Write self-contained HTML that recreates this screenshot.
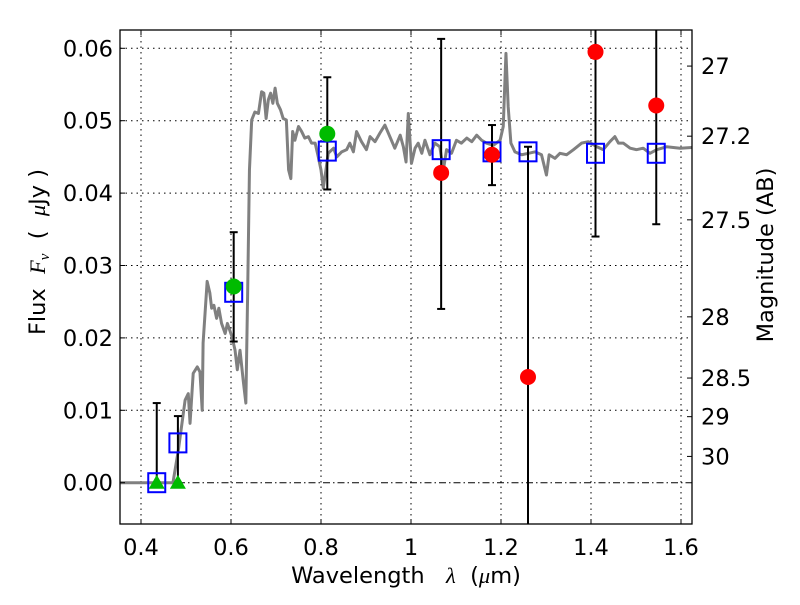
<!DOCTYPE html>
<html><head><meta charset="utf-8"><style>
html,body{margin:0;padding:0;background:#fff;}
svg text{font-family:"DejaVu Sans","Liberation Sans",sans-serif;white-space:pre;}
</style></head><body>
<svg id="chart" width="800" height="600" viewBox="0 0 800 600" xmlns="http://www.w3.org/2000/svg"></svg>
<script>
const xTicks=[0.4,0.6,0.8,1.0,1.2,1.4,1.6];
const xTickLabels=["0.4","0.6","0.8","1","1.2","1.4","1.6"];
const yTicks=[0,0.01,0.02,0.03,0.04,0.05,0.06];
const yTickLabels=["0.00","0.01","0.02","0.03","0.04","0.05","0.06"];
const magTicks=[27,27.2,27.5,28,28.5,29,30];
const magTickLabels=["27","27.2","27.5","28","28.5","29","30"];
const specLam=[0.353,0.471,0.483,0.498,0.505,0.509,0.516,0.525,0.531,0.536,0.538,0.547,0.553,0.557,0.562,0.568,0.573,0.579,0.587,0.592,0.602,0.609,0.614,0.620,0.627,0.633,0.637,0.641,0.646,0.653,0.661,0.668,0.673,0.678,0.683,0.688,0.693,0.698,0.703,0.710,0.716,0.723,0.728,0.733,0.737,0.742,0.750,0.757,0.764,0.772,0.779,0.787,0.794,0.800,0.805,0.811,0.816,0.828,0.835,0.846,0.857,0.864,0.872,0.879,0.890,0.901,0.909,0.920,0.931,0.942,0.953,0.964,0.976,0.983,0.989,0.994,1.001,1.009,1.016,1.024,1.031,1.042,1.053,1.064,1.072,1.079,1.090,1.101,1.112,1.124,1.135,1.146,1.157,1.168,1.183,1.198,1.205,1.211,1.216,1.222,1.231,1.246,1.261,1.276,1.290,1.301,1.307,1.320,1.331,1.346,1.361,1.379,1.394,1.413,1.427,1.442,1.453,1.461,1.472,1.487,1.501,1.516,1.531,1.546,1.568,1.598,1.624];
const specFlux=[0,0,0.0045,0.0114,0.0123,0.0082,0.0151,0.016,0.0153,0.01,0.0193,0.0278,0.0262,0.0241,0.0245,0.0227,0.0241,0.022,0.0206,0.022,0.0202,0.0183,0.0156,0.0183,0.0142,0.011,0.0262,0.0432,0.0501,0.0512,0.051,0.054,0.0538,0.0503,0.0529,0.0538,0.0524,0.0545,0.0524,0.0515,0.0503,0.0501,0.0432,0.042,0.0485,0.0473,0.0492,0.0485,0.0476,0.0478,0.0469,0.0469,0.045,0.0432,0.0407,0.0432,0.0455,0.0462,0.045,0.0457,0.046,0.0469,0.0457,0.0485,0.0471,0.046,0.0478,0.0471,0.0483,0.0494,0.0478,0.0462,0.048,0.0464,0.0443,0.051,0.0441,0.0462,0.0469,0.0455,0.0473,0.0453,0.0469,0.0464,0.0432,0.046,0.0455,0.0473,0.0469,0.0476,0.0471,0.048,0.0473,0.0469,0.0466,0.0473,0.0492,0.0593,0.0519,0.0469,0.0457,0.0453,0.0455,0.0457,0.0453,0.0425,0.0453,0.0448,0.0455,0.0453,0.046,0.0469,0.0471,0.0464,0.046,0.0471,0.0478,0.0469,0.0469,0.0462,0.046,0.0462,0.0455,0.046,0.0464,0.0462,0.0463];
const modelLam=[0.435,0.482,0.606,0.814,1.067,1.18,1.26,1.41,1.545];
const modelFlux=[0.0,0.0055,0.0263,0.0458,0.046,0.0457,0.0457,0.0455,0.0455];
const errLam=[0.435,0.482,0.606,0.814,1.067,1.18,1.26,1.41,1.545];
const errLo=[0.0,0.0,0.0195,0.0405,0.024,0.0411,-0.02,0.034,0.0357];
const errHi=[0.011,0.0092,0.0346,0.056,0.0613,0.0494,0.0464,0.09,0.09];
const greenLam=[0.606,0.814];
const greenFlux=[0.0271,0.0482];
const limLam=[0.435,0.482];
const limFlux=[0,0];
const redLam=[1.067,1.18,1.26,1.41,1.545];
const redFlux=[0.0428,0.0453,0.0146,0.0595,0.0521];

const L=120,R=692,T=30,B=524;
const X=v=>141+(v-0.4)*450;
const Y=v=>482.7-v*7240;
const svg=document.getElementById('chart');
const NS='http://www.w3.org/2000/svg';
function mk(tag,attrs,parent){const e=document.createElementNS(NS,tag);for(const k in attrs)e.setAttribute(k,attrs[k]);(parent||svg).appendChild(e);return e;}
const defs=mk('defs',{});const cp=mk('clipPath',{id:'cp'},defs);mk('rect',{x:L,y:T,width:R-L,height:B-T},cp);

const grid=mk('g',{});


xTicks.forEach(v=>{mk('line',{x1:X(v),x2:X(v),y1:T,y2:B,stroke:'#000','stroke-width':1,'stroke-dasharray':'1.5,4'},grid);});
yTicks.forEach(v=>{if(v===0)return;mk('line',{x1:L,x2:R,y1:Y(v),y2:Y(v),stroke:'#000','stroke-width':1,'stroke-dasharray':'1.5,4'},grid);});
const zl=mk('line',{x1:L,x2:R,y1:Y(0),y2:Y(0),stroke:'#000','stroke-width':1,'stroke-dasharray':'7,3,1.5,3'});



const plot=mk('g',{'clip-path':'url(#cp)'});
const sp=mk('polyline',{points:specLam.map((l,i)=>X(l)+','+Y(specFlux[i])).join(' '),fill:'none',stroke:'#808080','stroke-width':3,'stroke-linejoin':'round'},plot);



errLam.forEach((l,i)=>{
  const g=mk('g',{},plot);
  
  
  const x=X(l);
  mk('line',{x1:x,x2:x,y1:Y(errLo[i]),y2:Y(errHi[i]),stroke:'#000','stroke-width':2},g);
  mk('line',{x1:x-4,x2:x+4,y1:Y(errLo[i]),y2:Y(errLo[i]),stroke:'#000','stroke-width':2},g);
  mk('line',{x1:x-4,x2:x+4,y1:Y(errHi[i]),y2:Y(errHi[i]),stroke:'#000','stroke-width':2},g);
});
modelLam.forEach((l,i)=>{
  const r=mk('rect',{x:X(l)-8.5,y:Y(modelFlux[i])-9.5,width:17,height:19,fill:'none',stroke:'#0000ff','stroke-width':2},plot);
  
  
});
limLam.forEach((l,i)=>{
  const x=X(l),y=Y(limFlux[i]);
  const p=mk('polygon',{points:`${x},${y-8} ${x-8},${y+6} ${x+8},${y+6}`,fill:'#00bb00'},plot);
  
  
});
greenLam.forEach((l,i)=>{
  const c=mk('circle',{cx:X(l),cy:Y(greenFlux[i]),r:8,fill:'#00bb00'},plot);
  
  
});
redLam.forEach((l,i)=>{
  const c=mk('circle',{cx:X(l),cy:Y(redFlux[i]),r:8,fill:'#ff0000'},plot);
  
  
});

const frame=mk('rect',{x:L,y:T,width:R-L,height:B-T,fill:'none',stroke:'#000','stroke-width':1.3});



const FS=22.5;
xTicks.forEach((v,i)=>{
  mk('line',{x1:X(v),x2:X(v),y1:B,y2:B-5,stroke:'#000'});
  mk('line',{x1:X(v),x2:X(v),y1:T,y2:T+5,stroke:'#000'});
  const t=mk('text',{x:X(v),y:B+31,'text-anchor':'middle','font-size':FS});
  t.textContent=xTickLabels[i];
  
  
});
yTicks.forEach((v,i)=>{
  mk('line',{x1:L,x2:L+5,y1:Y(v),y2:Y(v),stroke:'#000'});
  const t=mk('text',{x:L-7,y:Y(v)+8,'text-anchor':'end','font-size':FS});
  t.textContent=yTickLabels[i];
  
  
});
magTicks.forEach((m,i)=>{
  const y=Y(Math.pow(10,(23.9-m)/2.5));
  mk('line',{x1:R,x2:R-5,y1:y,y2:y,stroke:'#000'});
  const t=mk('text',{x:R+9,y:y+8,'text-anchor':'start','font-size':FS});
  t.textContent=magTickLabels[i];
  
  
});

const xt=mk('text',{x:406,y:583,'text-anchor':'middle','font-size':22.5});
xt.innerHTML='Wavelength   <tspan font-family="Liberation Serif" font-style="italic">λ</tspan>  (<tspan font-family="Liberation Serif" font-style="italic">μ</tspan>m)';


const yt=mk('text',{x:0,y:0,'text-anchor':'middle','font-size':22.5,transform:'translate(45,252) rotate(-90)'});
yt.innerHTML='Flux  <tspan font-family="Liberation Serif" font-style="italic">F</tspan><tspan font-family="Liberation Serif" font-style="italic" font-size="15" dy="4">ν</tspan><tspan dy="-4">  (  </tspan><tspan font-family="Liberation Serif" font-style="italic">μ</tspan>Jy )';


const rt=mk('text',{x:0,y:0,'text-anchor':'middle','font-size':22.5,transform:'translate(773,255) rotate(-90)'});
rt.textContent='Magnitude (AB)';


</script>
</body></html>
